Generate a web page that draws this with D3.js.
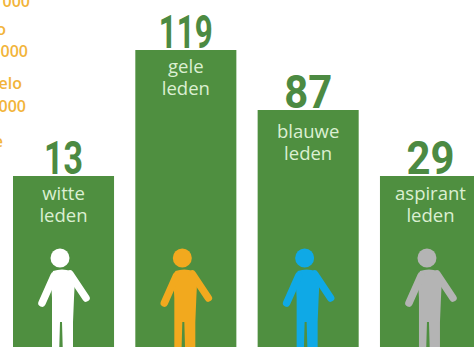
<!DOCTYPE html>
<html>
<head>
<meta charset="utf-8">
<script src="https://cdn.jsdelivr.net/npm/d3@7/dist/d3.min.js"></script>
<style>
html,body{margin:0;padding:0;background:#fff;overflow:hidden}
svg{display:block}
</style>
</head>
<body>
<svg id="chart" width="474" height="347"></svg>
<script>
// Member counts per category
const categories = ["witte", "gele", "blauwe", "aspirant"];
const members = [13, 119, 87, 29];
const figureColors = ["#ffffff", "#f2a91e", "#0fa9e6", "#b4b4b4"];
const captionSuffix = "leden";
// Tail of the amounts listed beside the columns, running off the page edge
const sideNotes = ["000", "o", "000", "elo", "000", "e"];

const width = 474, height = 347;
const svg = d3.select("#chart");

const x = d3.scaleBand().domain(categories).range([13, 481]).paddingInner(0.174).paddingOuter(0);
// Infographic scale: small groups share one minimum column height
const y = d3.scaleLinear().domain([13, 29, 87, 119]).range([176, 176, 110, 50]);

// Layout of the side notes and captions
const noteEnds = [30, 6, 28, 22, 26, 3];
const noteBaselines = [7, 35, 57, 89, 112, 147];
const captionOffset = { witte: 24, gele: 23, blauwe: 28, aspirant: 24 };
const digitWidth = d => d === "1" ? 15 : 24;

svg.selectAll("text.note").data(sideNotes).join("text")
  .attr("class", "note")
  .attr("x", (d, i) => noteEnds[i])
  .attr("y", (d, i) => noteBaselines[i])
  .attr("text-anchor", "end")
  .attr("font-family", "'Open Sans', sans-serif")
  .attr("font-size", 16)
  .attr("font-weight", 600)
  .attr("fill", "#f2b43a")
  .text(d => d);

const rows = categories.map((c, i) => ({ c, v: members[i], color: figureColors[i] }));
const groups = svg.selectAll("g.col").data(rows).join("g").attr("class", "col");

groups.append("rect")
  .attr("x", d => x(d.c))
  .attr("y", d => y(d.v))
  .attr("width", x.bandwidth())
  .attr("height", d => height - y(d.v))
  .attr("fill", "#4f8f40");

groups.append("text")
  .attr("x", d => x(d.c) + x.bandwidth() / 2)
  .attr("y", d => y(d.v) - 2)
  .attr("text-anchor", "middle")
  .attr("font-family", "Roboto, sans-serif")
  .attr("font-weight", 700)
  .attr("font-size", 46)
  .attr("fill", "#4c8a42")
  .attr("textLength", d => d3.sum(String(d.v), digitWidth))
  .attr("lengthAdjust", "spacingAndGlyphs")
  .text(d => d.v);

const caption = groups.append("g")
  .attr("font-family", "'Open Sans', sans-serif")
  .attr("font-size", 18.5)
  .attr("text-anchor", "middle")
  .attr("fill", "#dcefd2");
caption.append("text")
  .attr("x", d => x(d.c) + x.bandwidth() / 2)
  .attr("y", d => y(d.v) + captionOffset[d.c])
  .text(d => d.c);
caption.append("text")
  .attr("x", d => x(d.c) + x.bandwidth() / 2)
  .attr("y", d => y(d.v) + captionOffset[d.c] + 22)
  .text(captionSuffix);

// Standing figure, drawn around the head centre
const figure = groups.append("g")
  .attr("transform", d => `translate(${x(d.c) + 47},258)`)
  .attr("fill", d => d.color)
  .attr("stroke", d => d.color);
figure.append("circle").attr("r", 9.5).attr("stroke", "none");
figure.append("path")
  .attr("stroke", "none")
  .attr("d", "M-7,13 Q2,10 11,13 L15,20 L14,40 L13,64 L13,100 L3,100 L2,64 L0,64 L-1,100 L-8,100 L-8,64 L-8,40 L-9,22 Z");
figure.append("path")
  .attr("fill", "none")
  .attr("stroke-width", 7.5)
  .attr("stroke-linecap", "round")
  .attr("stroke-linejoin", "round")
  .attr("d", "M-6,18 L-18,45 M10,16 L26,40");
</script>
</body>
</html>
